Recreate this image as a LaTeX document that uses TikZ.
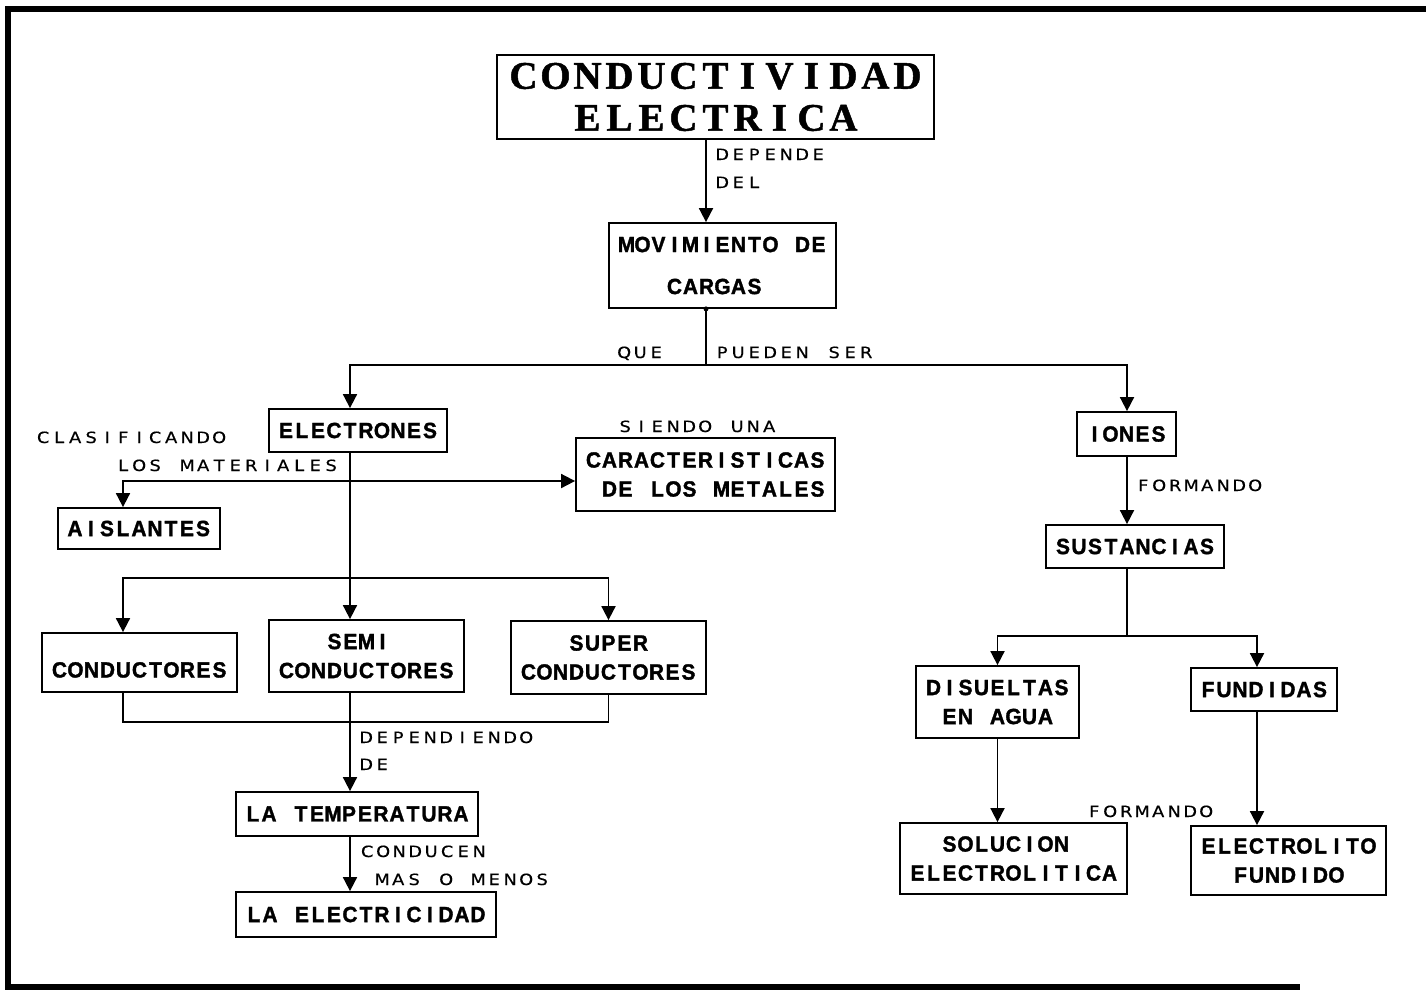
\documentclass[tikz,border=0pt]{standalone}
\usepackage{fontspec}
\usetikzlibrary{arrows.meta}
\newfontfamily\ttlf[FakeBold=1.2]{Liberation Serif}
\newfontfamily\bxf[FakeStretch=0.95,FakeBold=1.5]{Liberation Sans}
\newfontfamily\lbf[FakeStretch=1.15,FakeBold=0.4]{DejaVu Sans}
\def\cellw{16pt}
\def\cellsloop#1{\ifx#1\relax\else\makebox[\cellw][c]{#1}\expandafter\cellsloop\fi}
\newcommand\cells[2][16pt]{\def\cellw{#1}\cellsloop#2\relax}
\newcommand\ttlfont{\ttlf\bfseries\fontsize{39}{42}\selectfont}
\newcommand\boxfont{\bxf\bfseries\fontsize{22}{29}\selectfont}
\newcommand\lblfont{\lbf\fontsize{15.5}{16}\selectfont}
\tikzset{
  box/.style={draw, line width=1.8pt, inner sep=0pt, align=center, font=\boxfont},
  lbl/.style={inner sep=0pt, anchor=base west, font=\lblfont},
  arr/.style={line width=1.8pt, -{Triangle[length=14pt,width=14pt]}},
  ln/.style={line width=1.8pt},
}
\begin{document}
\begin{tikzpicture}[x=1pt,y=-1pt]
\useasboundingbox (0,0) rectangle (1426,994);
\draw[line width=6pt] (1426,8.5) -- (8,8.5) -- (8,987) -- (1300,987);

% boxes
\node[box, font=\ttlfont, minimum width=437pt, minimum height=84pt] (title) at (715.5,97) {\cells[32pt]{CONDUCTIVIDAD}\\\cells[32pt]{ELECTRICA}};
\node[box, minimum width=227pt, minimum height=85pt] (mov) at (722.5,265.5) {\cells{MOVIMIENTO~DE}\\[13pt]\cells{CARGAS~}};
\node[box, minimum width=178pt, minimum height=43pt] (elec) at (358,430.5) {\cells{ELECTRONES}};
\node[box, minimum width=99pt, minimum height=44pt] (iones) at (1126.5,434) {\cells{IONES}};
\node[box, minimum width=259pt, minimum height=73pt] (carac) at (705.5,474.5) {\cells{CARACTERISTICAS}\\\cells{~DE~LOS~METALES}};
\node[box, minimum width=162pt, minimum height=41pt] (aisl) at (139,528.5) {\cells{AISLANTES}};
\node[box, minimum width=195pt, minimum height=59pt, text height=30pt, text depth=0pt] (cond) at (139.5,662.5) {\cells{CONDUCTORES}};
\node[box, minimum width=195pt, minimum height=72pt] (semi) at (366.5,656) {\cells{SEMI~}\\\cells{CONDUCTORES}};
\node[box, minimum width=195pt, minimum height=73pt] (super) at (608.5,657.5) {\cells{SUPER}\\\cells{CONDUCTORES}};
\node[box, minimum width=242pt, minimum height=44pt] (temp) at (357,814) {\cells{LA~TEMPERATURA}};
\node[box, minimum width=260pt, minimum height=45pt] (elecd) at (366,914.5) {\cells{LA~ELECTRICIDAD}};
\node[box, minimum width=178pt, minimum height=43pt] (sust) at (1135,546.5) {\cells{SUSTANCIAS}};
\node[box, minimum width=163pt, minimum height=72pt] (disu) at (997.5,702) {\cells{DISUELTAS}\\\cells{EN~AGUA}};
\node[box, minimum width=146pt, minimum height=43pt] (fund) at (1264,689.5) {\cells{FUNDIDAS}};
\node[box, minimum width=227pt, minimum height=71pt] (sol) at (1013.5,858.5) {\cells{SOLUCION~}\\\cells{ELECTROLITICA}};
\node[box, minimum width=195pt, minimum height=69pt] (electro) at (1288.5,860.5) {\cells{ELECTROLITO}\\\cells{FUNDIDO}};

% junctions
\coordinate (cM) at (706,0);
\coordinate (j1) at (706,365);
\coordinate (cE) at (350,0);
\coordinate (cA) at (123,0);
\coordinate (j2) at (350,481);
\coordinate (j3) at (350,578);
\coordinate (j4) at (350,722);
\coordinate (j5) at (1127,636);
\coordinate (cF) at (1257,0);
\coordinate (cI) at (1127,0);

% connectors
\draw[arr] (cM |- title.south) -- (cM |- mov.north);
\draw[ln] (cM |- mov.south) -- (j1);
\fill (cM |- mov.south) circle[radius=2.5pt];
\draw[arr] (j1) -| (cE |- elec.north);
\draw[arr] (j1) -| (cI |- iones.north);
\draw[ln] (cE |- elec.south) -- (j3);
\draw[arr] (j2) -- (j2 -| carac.west);
\draw[arr] (j2) -| (cA |- aisl.north);
\draw[arr] (j3) -| (cA |- cond.north);
\draw[arr] (j3) -- (cE |- semi.north);
\draw[arr] (j3) -| (super.north);
\draw[ln] (cA |- cond.south) |- (j4) -| (super.south);
\draw[arr] (cE |- semi.south) -- (cE |- temp.north);
\draw[arr] (cE |- temp.south) -- (cE |- elecd.north);
\draw[arr] (cI |- iones.south) -- (cI |- sust.north);
\draw[ln] (cI |- sust.south) -- (j5);
\draw[arr] (j5) -| (disu.north);
\draw[arr] (j5) -| (cF |- fund.north);
\draw[arr] (disu.south) -- (disu.south |- sol.north);
\draw[arr] (cF |- fund.south) -- (cF |- electro.north);

% labels
\node[lbl] (lDep) at (714,160) {\cells{DEPENDE}};
\node[lbl] (lDel) at (714,188) {\cells{DEL}};
\node[lbl] (lQue) at (616,358) {\cells{QUE}};
\node[lbl] (lPue) at (714,358) {\cells{PUEDEN~SER}};
\node[lbl] (lCla) at (35,443) {\cells{CLASIFICANDO}};
\node[lbl] (lLos) at (115,471) {\cells{LOS~MATERIALES}};
\node[lbl] (lSie) at (617,432) {\cells{SIENDO~UNA}};
\node[lbl] (lFo1) at (1135,491) {\cells{FORMANDO}};
\node[lbl] (lDpd) at (358,743) {\cells{DEPENDIENDO}};
\node[lbl] (lDe) at (358,770) {\cells{DE}};
\node[lbl] (lCon) at (359,857) {\cells{CONDUCEN}};
\node[lbl] (lMas) at (374,885) {\cells{MAS~O~MENOS}};
\node[lbl] (lFo2) at (1086,817) {\cells{FORMANDO}};
\end{tikzpicture}
\end{document}
